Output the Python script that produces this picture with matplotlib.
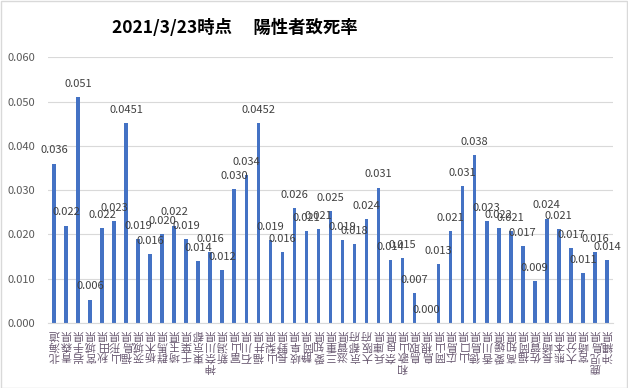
import numpy as np
import matplotlib.pyplot as plt
from matplotlib.patches import Rectangle

plt.rcParams['font.family'] = ['Noto Sans CJK JP', 'DejaVu Sans']

# data
prefectures = ['北海道', '青森県', '岩手県', '宮城県', '秋田県', '山形県', '福島県',
               '茨城県', '栃木県', '群馬県', '埼玉県', '千葉県', '東京都', '神奈川県',
               '新潟県', '富山県', '石川県', '福井県', '山梨県', '長野県', '岐阜県',
               '静岡県', '愛知県', '三重県', '滋賀県', '京都府', '大阪府', '兵庫県',
               '奈良県', '和歌山県', '鳥取県', '島根県', '岡山県', '広島県', '山口県',
               '徳島県', '香川県', '愛媛県', '高知県', '福岡県', '佐賀県', '長崎県',
               '熊本県', '大分県', '宮崎県', '鹿児島県', '沖縄県']
rates = [0.036, 0.022, 0.051, 0.0053, 0.0215, 0.023, 0.0451,
         0.019, 0.0155, 0.020, 0.022, 0.019, 0.014, 0.016,
         0.012, 0.0303, 0.0335, 0.0452, 0.0187, 0.016, 0.026,
         0.0207, 0.0212, 0.0253, 0.0187, 0.0178, 0.0235, 0.0306,
         0.0142, 0.0147, 0.0067, 0.0, 0.0133, 0.0207, 0.0310,
         0.0380, 0.0230, 0.0215, 0.0207, 0.0173, 0.0094, 0.0236,
         0.0213, 0.0170, 0.0113, 0.0160, 0.0143]
value_labels = ['0.036', '0.022', '0.051', '0.006', '0.022', '0.023', '0.0451',
                '0.019', '0.016', '0.020', '0.022', '0.019', '0.014', '0.016',
                '0.012', '0.030', '0.034', '0.0452', '0.019', '0.016', '0.026',
                '0.021', '0.021', '0.025', '0.019', '0.018', '0.024', '0.031',
                '0.014', '0.015', '0.007', '0.000', '0.013', '0.021', '0.031',
                '0.038', '0.023', '0.022', '0.021', '0.017', '0.009', '0.024',
                '0.021', '0.017', '0.011', '0.016', '0.014']
yticks = [0.0, 0.01, 0.02, 0.03, 0.04, 0.05, 0.06]

fig = plt.figure(figsize=(6.28, 3.88), dpi=100)
ax = fig.add_axes([0.0764, 0.1675, 0.8996, 0.6845])

x = np.arange(len(rates))
ax.bar(x, rates, width=0.3, color='#4472C4', zorder=2)

for xi, v, lab in zip(x, rates, value_labels):
    ax.annotate(lab, (xi, v), xytext=(0, 9.5), textcoords='offset points',
                ha='center', va='center', fontsize=8, color='#404040', zorder=3)

# stacked prefecture names, turned upside down like the original
for xi, name in zip(x, prefectures):
    ax.text(xi, -0.022, '\n'.join(name), transform=ax.get_xaxis_transform(),
            rotation=180, ha='center', va='top', fontsize=8, color='#6a5a72',
            linespacing=1.1)

ax.set_xlim(-0.5, len(rates) - 0.5)
ax.set_ylim(0, 0.06)
ax.set_yticks(yticks)
ax.set_yticklabels([f'{t:.3f}' for t in yticks])
ax.set_xticks([])
ax.yaxis.grid(True, color='#d9d9d9', lw=0.8)
ax.set_axisbelow(True)
for s in ['top', 'right', 'left']:
    ax.spines[s].set_visible(False)
ax.spines['bottom'].set_color('#d9d9d9')
ax.tick_params(axis='y', length=0, labelsize=8, colors='#595959', pad=9)

fig.text(235 / 628, 1 - 28 / 388, '2021/3/23時点　 陽性者致死率',
         ha='center', va='center', fontsize=12.5, fontweight='bold', color='black')

fig.patches.append(Rectangle((0.001, 0.001), 0.997, 0.996, transform=fig.transFigure,
                             fill=False, edgecolor='#d9d9d9', lw=1))

fig.savefig('out.png', dpi=100)
